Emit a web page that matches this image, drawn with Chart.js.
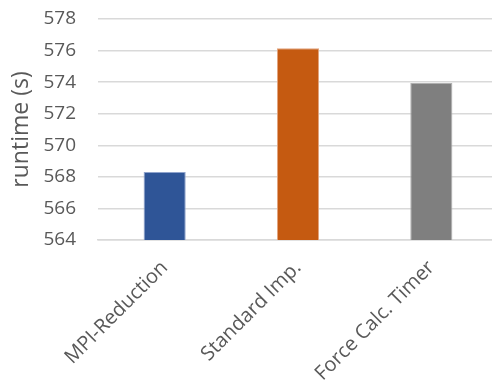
<!DOCTYPE html>
<html>
<head>
<meta charset="utf-8">
<script src="https://cdn.jsdelivr.net/npm/chart.js@4"></script>
<style>
  html, body { margin: 0; padding: 0; background: #fff; overflow: hidden; }
  #wrap { width: 498px; height: 390px; }
</style>
</head>
<body>
<div id="wrap"><canvas id="chart"></canvas></div>
<script>
const categories = ['MPI-Reduction', 'Standard Imp.', 'Force Calc. Timer'];
const runtimes = [568.3, 576.15, 573.95];
const barColors = ['#2F5597', '#C55A11', '#7F7F7F'];
const barBorders = ['#8FA3CC', '#E2A47F', '#AFAFAF'];

const textColor = '#595959';

new Chart(document.getElementById('chart'), {
    type: 'bar',
    data: {
        labels: categories,
        datasets: [{
            label: 'runtime',
            data: runtimes,
            backgroundColor: barColors,
            borderColor: barBorders,
            borderWidth: 1,
            barPercentage: 1,
            categoryPercentage: 0.316
        }]
    },
    options: {
        responsive: true,
        maintainAspectRatio: false,
        animation: false,
        layout: { padding: { top: 19, right: 0, left: 0, bottom: 0 } },
        plugins: {
            legend: { display: false },
            tooltip: { enabled: false }
        },
        scales: {
            y: {
                min: 564,
                max: 578,
                ticks: {
                    stepSize: 2,
                    color: textColor,
                    padding: 22,
                    font: { family: 'Open Sans', size: 19 }
                },
                grid: { color: '#D9D9D9', lineWidth: 1.5, drawTicks: false },
                border: { display: false },
                title: {
                    display: true,
                    text: 'runtime (s)',
                    color: textColor,
                    padding: { top: 8, bottom: 0 },
                    font: { family: 'Open Sans', size: 23 }
                },
                afterFit: s => { s.width = 98; s.paddingTop = 0; s.paddingBottom = 0; }
            },
            x: {
                ticks: {
                    color: textColor,
                    minRotation: 45,
                    maxRotation: 45,
                    padding: 8,
                    font: { family: 'Open Sans', size: 20 }
                },
                grid: { display: false },
                border: { color: '#D9D9D9', width: 1.5 },
                afterFit: s => { s.height = 150; s.paddingLeft = 0; s.paddingRight = 0; }
            }
        }
    }
});
</script>
</body>
</html>
